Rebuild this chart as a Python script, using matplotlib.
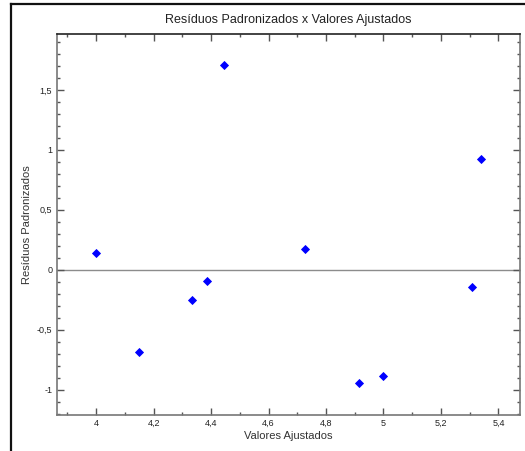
import matplotlib
matplotlib.use("Agg")
import matplotlib.pyplot as plt
from matplotlib.lines import Line2D
from matplotlib.ticker import MultipleLocator, FuncFormatter

# valores
valores_ajustados = [4.00, 4.15, 4.333, 4.387, 4.446, 4.728, 4.914, 4.998, 5.307, 5.340]
residuos_padronizados = [0.142, -0.683, -0.253, -0.092, 1.706, 0.173, -0.943, -0.889, -0.144, 0.922]

plt.rcParams['font.family'] = ['Liberation Sans', 'DejaVu Sans']

W, H = 525, 451
fig = plt.figure(figsize=(W / 100, H / 100), dpi=100)
ax = fig.add_axes([57 / W, 1 - 414.5 / H, (520 - 57) / W, (414.5 - 34) / H])

ax.axhline(0, color='#8c8c8c', lw=1.0, zorder=1)
ax.plot(valores_ajustados, residuos_padronizados, 'D', color='#0000ff',
        markersize=4.3, markeredgewidth=0.6, zorder=3)

ax.set_xlim(3.864, 5.475)
ax.set_ylim(-1.208, 1.967)

ax.xaxis.set_major_locator(MultipleLocator(0.2))
ax.xaxis.set_minor_locator(MultipleLocator(0.1))
ax.yaxis.set_major_locator(MultipleLocator(0.5))
ax.yaxis.set_minor_locator(MultipleLocator(0.1))

virgula = FuncFormatter(lambda v, p: ('%g' % round(v, 3)).replace('.', ','))
ax.xaxis.set_major_formatter(virgula)
ax.yaxis.set_major_formatter(virgula)

ax.tick_params(which='both', direction='in', top=True, right=True, colors='#555555',
               labelcolor='#222222', labelsize=6.5)
ax.tick_params(which='major', length=5, width=1)
ax.tick_params(which='minor', length=2.2, width=1)
ax.tick_params(axis='x', pad=3)
ax.tick_params(axis='y', pad=3.5)

for s in ax.spines.values():
    s.set_color('#777777')
    s.set_linewidth(1.2)
ax.spines['top'].set_color('#222222')

ax.set_xlabel('Valores Ajustados', fontsize=8, color='#333333', va='center')
ax.xaxis.set_label_coords(0.5, -(436 - 414.5) / (414.5 - 34))
ax.set_ylabel('Resíduos Padronizados', fontsize=8, color='#333333', va='center')
ax.yaxis.set_label_coords(-(57 - 27) / (520 - 57), 0.5)

fig.text(288 / W, 1 - 20 / H, 'Resíduos Padronizados x Valores Ajustados',
         ha='center', va='center', fontsize=9, color='#222222')

# moldura preta em cima e a esquerda
fig.add_artist(Line2D([11 / W, 1], [1 - 4 / H, 1 - 4 / H], color='#111111', lw=1.6))
fig.add_artist(Line2D([11 / W, 11 / W], [0, 1 - 4 / H], color='#111111', lw=1.6))

fig.savefig('out.png', dpi=100)
